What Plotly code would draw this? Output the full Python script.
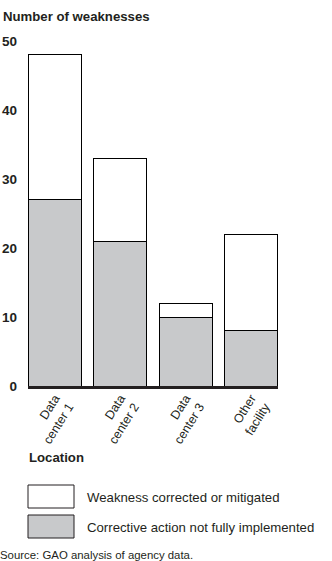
import plotly.graph_objects as go

categories = ["Data<br>center 1", "Data<br>center 2", "Data<br>center 3", "Other<br>facility"]
not_implemented = [27, 21, 10, 8]
corrected = [21, 12, 2, 14]
y_ticks = [0, 10, 20, 30, 40, 50]

W, H = 332, 561
L, R, T, B = 28, 54, 41, 175
PW, PH = W - L - R, H - T - B

def px(x):
    return (x - L) / PW

def py(y):
    return (H - B - y) / PH

FONT = "Liberation Sans, Arial, sans-serif"
GRAY = "#c8c9cb"

fig = go.Figure()
fig.add_trace(go.Bar(x=categories, y=not_implemented, marker=dict(color=GRAY, line=dict(color="black", width=1)),
                     name="Corrective action not fully implemented", showlegend=False))
fig.add_trace(go.Bar(x=categories, y=corrected, marker=dict(color="white", line=dict(color="black", width=1)),
                     name="Weakness corrected or mitigated", showlegend=False))

fig.update_layout(
    width=W, height=H, margin=dict(l=L, r=R, t=T, b=B),
    barmode="stack", bargap=0.19,
    plot_bgcolor="white", paper_bgcolor="white",
    font=dict(family=FONT, size=13, color="#231f20"),
    xaxis=dict(range=[-0.41, 3.41], showline=True, linewidth=3, linecolor="#231f20",
               tickangle=-58, ticks="", showgrid=False, tickfont=dict(size=12.5),
               ticklabelstandoff=-3, automargin=False),
    yaxis=dict(range=[0, 50], tickvals=y_ticks, showgrid=False, zeroline=False, ticks="",
               tickfont=dict(size=13.5, weight="bold"), ticklabelstandoff=10, fixedrange=True,
               automargin=False),
)

annotations = [
    dict(text="<b>Number of weaknesses</b>", x=px(1), y=py(17), xanchor="left", yanchor="middle", font=dict(size=13.2)),
    dict(text="<b>Location</b>", x=px(27), y=py(458), xanchor="left", yanchor="middle", font=dict(size=13.2)),
    dict(text="Weakness corrected or mitigated", x=px(85), y=py(497), xanchor="left", yanchor="middle", font=dict(size=13.2)),
    dict(text="Corrective action not fully implemented", x=px(85), y=py(527), xanchor="left", yanchor="middle", font=dict(size=13.2)),
    dict(text="Source: GAO analysis of agency data.", x=px(-2), y=py(555), xanchor="left", yanchor="middle", font=dict(size=11.4)),
]
for a in annotations:
    a.update(xref="paper", yref="paper", showarrow=False)
fig.update_layout(annotations=annotations)

fig.add_shape(type="rect", xref="paper", yref="paper", x0=px(28), x1=px(74), y0=py(485), y1=py(508),
              fillcolor="white", line=dict(color="#231f20", width=1))
fig.add_shape(type="rect", xref="paper", yref="paper", x0=px(28), x1=px(74), y0=py(515), y1=py(538),
              fillcolor=GRAY, line=dict(color="#231f20", width=1))

fig.write_html("out.html")
